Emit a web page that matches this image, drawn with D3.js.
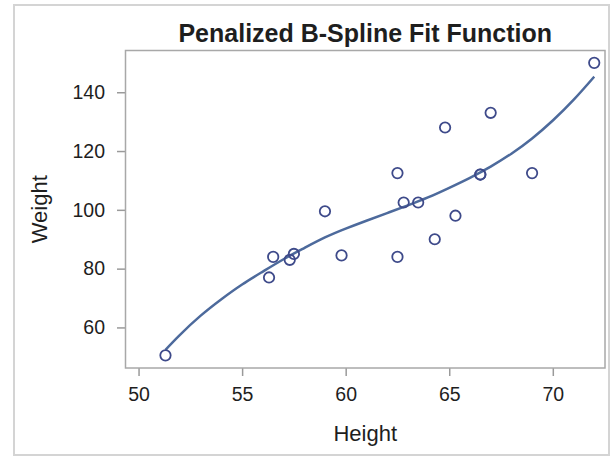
<!DOCTYPE html>
<html>
<head>
<meta charset="utf-8">
<script src="https://cdn.jsdelivr.net/npm/d3@7"></script>
<style>
  body { margin: 0; background: #fff; }
  svg text { font-family: "Liberation Sans", Arial, sans-serif; fill: #1e1e1e; }
</style>
</head>
<body>
<div id="chart"></div>
<script>
// class data: Height vs Weight
var heights = [69.0, 56.5, 65.3, 62.8, 63.5, 57.3, 59.8, 62.5, 62.5, 59.0,
               51.3, 64.3, 56.3, 66.5, 72.0, 64.8, 67.0, 57.5, 66.5];
var weights = [112.5, 84.0, 98.0, 102.5, 102.5, 83.0, 84.5, 112.5, 84.0, 99.5,
               50.5, 90.0, 77.0, 112.0, 150.0, 128.0, 133.0, 85.0, 112.0];

// fitted penalized b-spline
var fitX = [51.3, 52, 53, 54, 55, 56, 57, 58, 59, 60, 61, 62, 63, 64, 65, 66, 67, 68, 69, 70, 71, 72];
var fitY = [52.4, 57.5, 64.0, 69.6, 74.6, 79.0, 83.2, 87.0, 90.6, 93.6, 96.3, 98.9, 101.5,
            104.3, 107.5, 110.9, 114.7, 119.1, 124.3, 130.4, 137.4, 145.3];

var xTicks = [50, 55, 60, 65, 70];
var yTicks = [60, 80, 100, 120, 140];

function drawChart() {
    var W = 610, H = 456;
    var pLeft = 125.5, pRight = 605, pTop = 50.5, pBottom = 368;

    var svg = d3.select("#chart").append("svg")
        .attr("width", W)
        .attr("height", H);

    // outer border
    svg.append("rect")
        .attr("x", 14).attr("y", 5)
        .attr("width", 595).attr("height", 450)
        .attr("fill", "none")
        .attr("stroke", "#d4d4d4")
        .attr("stroke-width", 2);

    var x = d3.scaleLinear().domain([49.37, 72.52]).range([pLeft, pRight]);
    var y = d3.scaleLinear().domain([46.2, 154.2]).range([pBottom, pTop]);

    // axes
    var xAxis = svg.append("g")
        .attr("transform", "translate(0," + pBottom + ")")
        .call(d3.axisBottom(x).tickValues(xTicks).tickSize(8).tickPadding(11));
    var yAxis = svg.append("g")
        .attr("transform", "translate(" + pLeft + ",0)")
        .call(d3.axisLeft(y).tickValues(yTicks).tickSize(8.5).tickPadding(12));

    [xAxis, yAxis].forEach(function(g) {
        g.attr("font-size", null).attr("font-family", null);
        g.select(".domain").remove();
        g.selectAll(".tick line").attr("stroke", "#9a9a9a").attr("stroke-width", 1.5);
        g.selectAll(".tick text")
            .style("font-size", "19.5px")
            .style("font-family", "'Liberation Sans', Arial, sans-serif")
            .style("fill", "#1e1e1e");
    });

    // plot frame
    svg.append("rect")
        .attr("x", pLeft).attr("y", pTop)
        .attr("width", pRight - pLeft).attr("height", pBottom - pTop)
        .attr("fill", "none")
        .attr("stroke", "#a8a8a8")
        .attr("stroke-width", 1.5);

    // fit curve
    var line = d3.line()
        .x(function(d, i) { return x(fitX[i]); })
        .y(function(d) { return y(d); })
        .curve(d3.curveNatural);

    svg.append("path")
        .datum(fitY)
        .attr("d", line)
        .attr("fill", "none")
        .attr("stroke", "#4d6a9c")
        .attr("stroke-width", 2.5);

    // observations
    svg.selectAll("circle.obs")
        .data(heights)
        .enter()
        .append("circle")
        .attr("class", "obs")
        .attr("cx", function(d) { return x(d); })
        .attr("cy", function(d, i) { return y(weights[i]); })
        .attr("r", 5.2)
        .attr("fill", "none")
        .attr("stroke", "#3e4a8a")
        .attr("stroke-width", 1.8);

    // titles
    svg.append("text")
        .attr("x", (pLeft + pRight) / 2)
        .attr("y", 42)
        .attr("text-anchor", "middle")
        .style("font-size", "25px")
        .style("font-weight", "bold")
        .text("Penalized B-Spline Fit Function");

    svg.append("text")
        .attr("x", (pLeft + pRight) / 2)
        .attr("y", 441)
        .attr("text-anchor", "middle")
        .style("font-size", "22px")
        .text("Height");

    svg.append("text")
        .attr("transform", "translate(47," + ((pTop + pBottom) / 2) + ") rotate(-90)")
        .attr("text-anchor", "middle")
        .style("font-size", "22px")
        .text("Weight");
}

drawChart();
</script>
</body>
</html>
